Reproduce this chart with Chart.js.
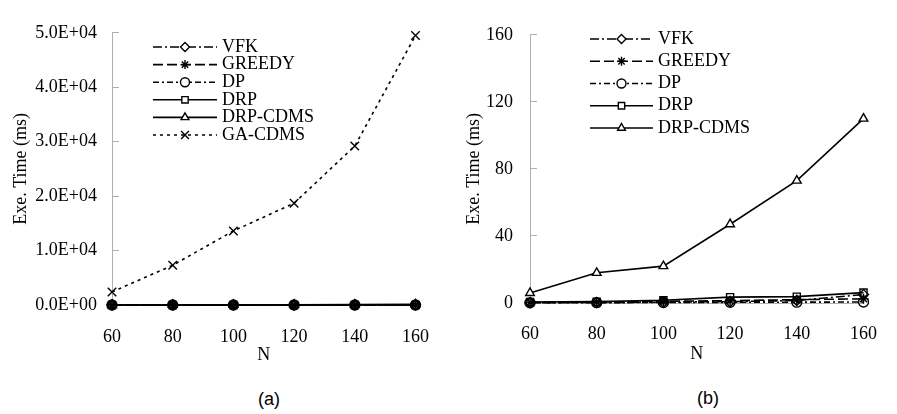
<!DOCTYPE html>
<html><head><meta charset="utf-8">
<script src="https://cdn.jsdelivr.net/npm/chart.js@4"></script>
<style>
html,body{margin:0;padding:0;background:#fff;}
#wrap{position:relative;width:897px;height:414px;overflow:hidden;background:#fff;}
.c{position:absolute;top:0;}
.cap{position:absolute;font-family:'Liberation Sans',Arial,sans-serif;font-size:18px;color:#000;transform:translate(-50%,-50%);white-space:nowrap;}
</style></head><body>
<div id="wrap">
  <div class="c" style="left:0;"><canvas id="ca" width="450" height="370"></canvas></div>
  <div class="c" style="left:450px;"><canvas id="cb" width="447" height="370"></canvas></div>
  <div class="cap" style="left:269px;top:399px">(a)</div>
  <div class="cap" style="left:708px;top:398px">(b)</div>
</div>
<script>
// ---- data ----
const nValues = ['60', '80', '100', '120', '140', '160'];
const seriesNames = ['VFK', 'GREEDY', 'DP', 'DRP', 'DRP-CDMS', 'GA-CDMS'];
const vfk     = [0.2, 0.3, 0.5, 0.8, 1.5, 5.0];
const greedy  = [0.3, 0.6, 1.0, 1.4, 2.0, 2.5];
const dp      = [0.1, 0.2, 0.3, 0.4, 0.5, 0.6];
const drp     = [0.6, 0.8, 1.6, 3.5, 3.8, 6.2];
const drpCdms = [6, 18, 22, 47, 73, 110];
const gaCdms  = [2400, 7300, 13600, 18700, 29200, 49500];
const yTickLabelsA = ['0.0E+00', '1.0E+04', '2.0E+04', '3.0E+04', '4.0E+04', '5.0E+04'];
const yTickLabelsB = ['0', '40', '80', '120', '160'];
const xTitle = 'N';
const yTitle = 'Exe. Time (ms)';

// ---- styles ----
const SERIF = "'Liberation Serif','Times New Roman',serif";
const styles = [
  {pointStyle: 'rectRot', borderDash: [9, 3, 2, 3], fill: 'rgba(0,0,0,0)'},
  {pointStyle: 'star', borderDash: [10, 4], fill: 'rgba(0,0,0,0)'},
  {pointStyle: 'circle', borderDash: [6, 3, 2, 3], fill: 'rgba(0,0,0,0)'},
  {pointStyle: 'rect', borderDash: [], fill: 'rgba(0,0,0,0)'},
  {pointStyle: 'triangle', borderDash: [], fill: '#fff'},
  {pointStyle: 'crossRot', borderDash: [3, 4], fill: '#fff'}
];
const allValues = [vfk, greedy, dp, drp, drpCdms, gaCdms];

function makeDatasets(count) {
  const out = [];
  for (let i = 0; i < count; i++) {
    const s = styles[i];
    out.push({
      label: seriesNames[i],
      data: allValues[i],
      borderColor: '#000',
      borderWidth: 1.6,
      borderDash: s.borderDash,
      pointStyle: s.pointStyle,
      pointRadius: s.pointStyle === 'crossRot' ? 6 : 5,
      pointBorderWidth: 1.4,
      pointBorderColor: '#000',
      pointBackgroundColor: s.fill,
      tension: 0,
      fill: false,
      clip: false
    });
  }
  return out;
}

const legendPlugin = {
  id: 'inLegend',
  afterDraw(chart, args, opts) {
    const ctx = chart.ctx;
    ctx.save();
    chart.data.datasets.forEach((ds, i) => {
      const y = opts.y0 + i * opts.dy;
      ctx.strokeStyle = '#000';
      ctx.lineWidth = 1.6;
      ctx.setLineDash(ds.borderDash || []);
      ctx.beginPath();
      ctx.moveTo(opts.x0, y);
      ctx.lineTo(opts.x1, y);
      ctx.stroke();
      ctx.setLineDash([]);
      ctx.fillStyle = '#fff';
      ctx.strokeStyle = '#000';
      ctx.lineWidth = 1.4;
      Chart.helpers.drawPoint(ctx, {pointStyle: ds.pointStyle, radius: ds.pointStyle === 'crossRot' ? 5.5 : 4.5, rotation: 0, borderWidth: 1.4}, (opts.x0 + opts.x1) / 2, y);
      ctx.fillStyle = '#000';
      ctx.font = '18px ' + SERIF;
      ctx.textBaseline = 'middle';
      ctx.textAlign = 'left';
      ctx.fillText(ds.label, opts.x1 + 5, y);
    });
    ctx.restore();
  }
};

function makeChart(id, count, yMax, yStep, yLabels, geom) {
  return new Chart(document.getElementById(id), {
    type: 'line',
    data: {labels: nValues, datasets: makeDatasets(count)},
    plugins: [legendPlugin],
    options: {
      responsive: false,
      animation: false,
      devicePixelRatio: 1,
      layout: {padding: {top: geom.top, right: geom.right, left: 0, bottom: 0}},
      plugins: {
        legend: {display: false},
        tooltip: {enabled: false},
        inLegend: geom.legend
      },
      scales: {
        x: {
          type: 'category',
          offset: false,
          grid: {display: true, drawOnChartArea: false, drawTicks: false, color: '#b0b0b0'},
          border: {display: true, color: '#b0b0b0', width: 1},
          ticks: {color: '#000', font: {family: SERIF, size: 18}, padding: geom.xTickPad, maxRotation: 0, autoSkip: false},
          title: {display: true, text: xTitle, color: '#000', font: {family: SERIF, size: 18}, padding: {top: 0, bottom: geom.xTitlePad}},
          afterFit: (s) => { s.height = geom.xHeight; }
        },
        y: {
          min: 0, max: yMax,
          grid: {display: true, drawOnChartArea: false, drawTicks: true, tickLength: -7, color: '#b0b0b0'},
          border: {display: true, color: '#b0b0b0', width: 1},
          ticks: {stepSize: yStep, color: '#000', font: {family: SERIF, size: 18}, padding: geom.yTickPad,
                  callback: (v, i) => yLabels[i]},
          title: {display: true, text: yTitle, color: '#000', font: {family: SERIF, size: 18}, padding: {top: geom.yTitlePad, bottom: 0}},
          afterFit: (s) => { s.width = geom.yWidth; }
        }
      }
    }
  });
}

makeChart('ca', 6, 50000, 10000, yTickLabelsA, {
  top: 20, right: 20, xHeight: 65, yWidth: 112,
  xTickPad: 21, xTitlePad: 4, yTickPad: 22, yTitlePad: 10,
  legend: {x0: 153, x1: 217, y0: 47, dy: 17.6}
});
makeChart('cb', 5, 160, 40, yTickLabelsB, {
  top: 17, right: 14, xHeight: 67, yWidth: 80,
  xTickPad: 20, xTitlePad: 4.5, yTickPad: 24, yTitlePad: 13,
  legend: {x0: 140, x1: 203, y0: 39, dy: 22.25}
});
</script>
</body></html>
